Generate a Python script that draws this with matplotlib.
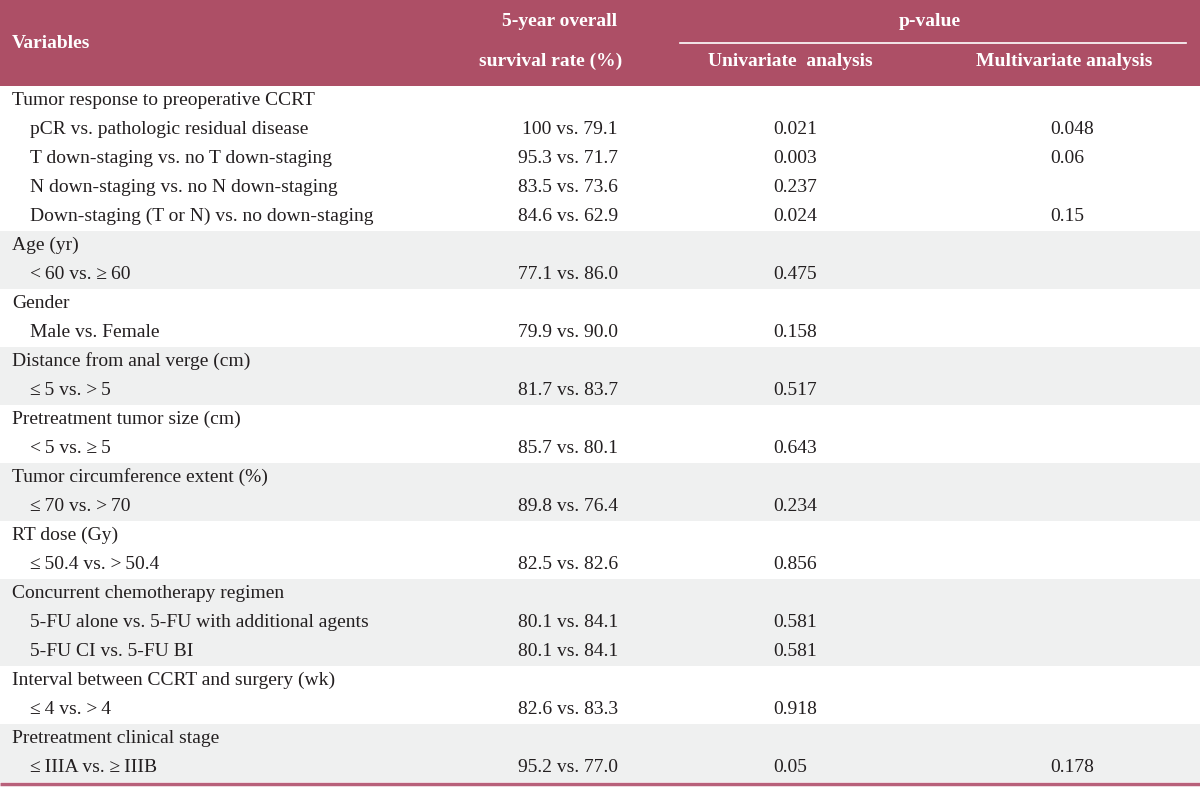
import matplotlib
matplotlib.use("Agg")
import matplotlib.pyplot as plt
from matplotlib.patches import Rectangle

# ---------------- data ----------------
group_labels = [
    "Tumor response to preoperative CCRT",
    "Age (yr)",
    "Gender",
    "Distance from anal verge (cm)",
    "Pretreatment tumor size (cm)",
    "Tumor circumference extent (%)",
    "RT dose (Gy)",
    "Concurrent chemotherapy regimen",
    "Interval between CCRT and surgery (wk)",
    "Pretreatment clinical stage",
]
comparisons = [
    ["pCR vs. pathologic residual disease",
     "T down-staging vs. no T down-staging",
     "N down-staging vs. no N down-staging",
     "Down-staging (T or N) vs. no down-staging"],
    ["<\u200960 vs. \u2265\u200960"],
    ["Male vs. Female"],
    ["\u2264\u20095 vs. >\u20095"],
    ["<\u20095 vs. \u2265\u20095"],
    ["\u2264\u200970 vs. >\u200970"],
    ["\u2264\u200950.4 vs. >\u200950.4"],
    ["5-FU alone vs. 5-FU with additional agents",
     "5-FU CI vs. 5-FU BI"],
    ["\u2264\u20094 vs. >\u20094"],
    ["\u2264\u2009IIIA vs. \u2265\u2009IIIB"],
]
survival = [
    ["100 vs. 79.1", "95.3 vs. 71.7", "83.5 vs. 73.6", "84.6 vs. 62.9"],
    ["77.1 vs. 86.0"], ["79.9 vs. 90.0"], ["81.7 vs. 83.7"], ["85.7 vs. 80.1"],
    ["89.8 vs. 76.4"], ["82.5 vs. 82.6"], ["80.1 vs. 84.1", "80.1 vs. 84.1"],
    ["82.6 vs. 83.3"], ["95.2 vs. 77.0"],
]
p_univariate = [
    ["0.021", "0.003", "0.237", "0.024"],
    ["0.475"], ["0.158"], ["0.517"], ["0.643"], ["0.234"], ["0.856"],
    ["0.581", "0.581"], ["0.918"], ["0.05"],
]
p_multivariate = [
    ["0.048", "0.06", "", "0.15"],
    [""], [""], [""], [""], [""], [""], ["", ""], [""], ["0.178"],
]
header_cols = ["Variables", "5-year overall\nsurvival rate (%)", "p-value",
               "Univariate  analysis", "Multivariate analysis"]

# ---------------- style ----------------
HEAD = "#AD4F66"
SHADE = "#EFF0F0"
LINE = "#B8607A"
TXT = "#231F20"
FONT = "Liberation Serif"
FS = 14

W, H = 1200, 787
fig = plt.figure(figsize=(W / 100, H / 100), dpi=100)
ax = fig.add_axes([0, 0, 1, 1])
ax.set_xlim(0, W)
ax.set_ylim(H, 0)
ax.axis("off")

header_h = 86
row_h = 29.0

# header band
ax.add_patch(Rectangle((0, 0), W, header_h, color=HEAD, lw=0))
ax.plot([680, 1186], [43, 43], color="white", lw=1.2)
hk = dict(color="white", fontfamily=FONT, fontsize=FS, fontweight="bold", va="center")
ax.text(12, 44, header_cols[0], ha="left", **hk)
l1, l2 = header_cols[1].split("\n")
ax.text(560, 22, l1, ha="center", **hk)
ax.text(551, 61, l2, ha="center", **hk)
ax.text(930, 22, header_cols[2], ha="center", **hk)
ax.text(790, 61, header_cols[3], ha="center", **hk)
ax.text(1064, 61, header_cols[4], ha="center", **hk)

# body
tk = dict(color=TXT, fontfamily=FONT, fontsize=FS, va="center")
row = 0
for g, (glab, comps) in enumerate(zip(group_labels, comparisons)):
    n = 1 + len(comps)
    top = header_h + row * row_h
    if g % 2 == 1:
        ax.add_patch(Rectangle((0, top), W, n * row_h, color=SHADE, lw=0, zorder=0))
    ax.text(12, top + 0.5 * row_h, glab, ha="left", **tk)
    for j, c in enumerate(comps):
        y = top + (j + 1.5) * row_h
        ax.text(30, y, c, ha="left", **tk)
        ax.text(618, y, survival[g][j], ha="right", **tk)
        ax.text(773, y, p_univariate[g][j], ha="left", **tk)
        if p_multivariate[g][j]:
            ax.text(1050, y, p_multivariate[g][j], ha="left", **tk)
    row += n

bottom = header_h + row * row_h
ax.plot([0, W], [bottom + 2, bottom + 2], color=LINE, lw=2.5, solid_capstyle="butt")

fig.savefig("out.png", dpi=100)
